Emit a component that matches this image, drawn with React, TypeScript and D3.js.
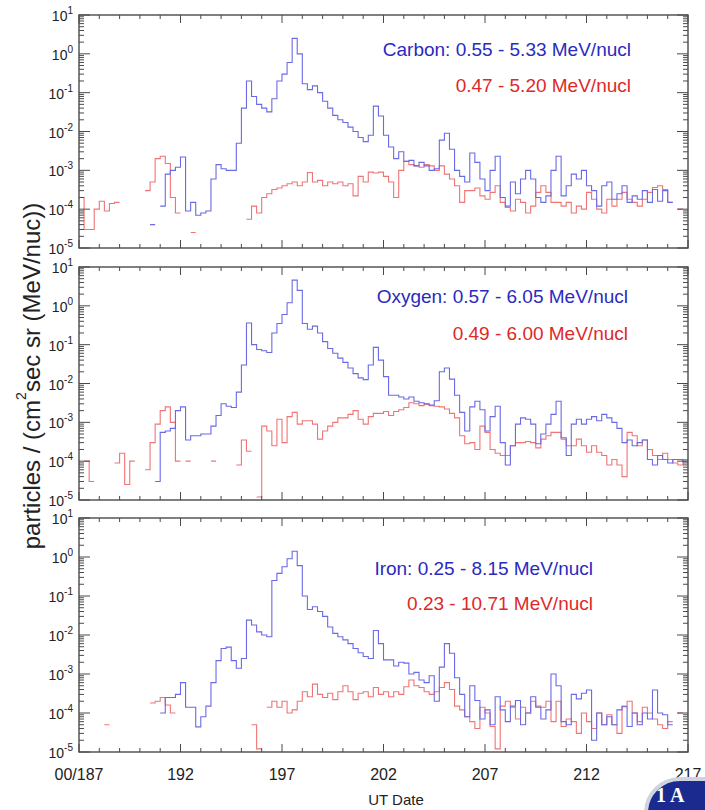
import React from 'react';
import * as d3 from 'd3';

const _ = null;

// bins of 6 hours starting at day 187
const binStart = 187;
const binWidth = 0.25;

// Carbon panel
const carbonBlue = [
  _, _, _, _, _, _, _, _, _, _,
  _, _, _, _, 4e-5, _, 1.2e-4, 8e-4, 1e-3, 1.2e-3,
  2.2e-3, 9e-5, 1.5e-4, 7e-5, 8e-5, 9e-5, 6e-4, 1.4e-3, 1.1e-3, 1e-3,
  1e-3, 5e-3, 0.04, 0.2, 0.08, 0.05, 0.04, 0.032, 0.07, 0.2,
  0.3, 0.6, 2.5, 1.0, 0.17, 0.12, 0.15, 0.1, 0.06, 0.04,
  0.026, 0.02, 0.017, 0.013, 0.01, 0.007, 0.0055, 0.008, 0.045, 0.025,
  0.008, 0.004, 0.002, 0.003, 0.0017, 0.0018, 0.0013, 0.0016, 0.0013, 0.001,
  0.0011, 0.006, 0.009, 0.0035, 0.001, 7e-4, 5e-4, 2.8e-3, 1.6e-3, 6e-4,
  3e-4, 1e-3, 2.3e-3, 2e-4, 1.2e-4, 5e-4, 2.5e-4, 6e-4, 1e-3, 6e-4,
  2e-4, 1.5e-4, 2.2e-4, 1e-3, 2.3e-3, 2.2e-4, 4e-4, 8e-4, 6e-4, 1e-3,
  4e-4, 3e-4, 1.2e-4, 4e-4, 5e-4, 1.8e-4, 2.5e-4, 4e-4, 1.5e-4, 2.2e-4,
  1.8e-4, 3e-4, 1.5e-4, 3.2e-4, 1.6e-4, 3e-4, 1.5e-4, _, _, _,
];
const carbonRed = [
  2e-4, 3e-5, 3e-5, 1e-4, 1.6e-4, 9e-5, 1.4e-4, 1.5e-4, _, _,
  _, _, _, 3e-4, 5e-4, 2e-3, 2.3e-3, 1.5e-3, 2e-4, 8e-5,
  _, _, 2.5e-5, _, _, _, _, _, _, _,
  _, _, _, 5.5e-5, 1.2e-4, 8e-5, 2e-4, 2.5e-4, 3.2e-4, 3.5e-4,
  4e-4, 4.5e-4, 5e-4, 4e-4, 5e-4, 8.8e-4, 5e-4, 5.5e-4, 4e-4, 5e-4,
  4.5e-4, 5e-4, 4e-4, 4.5e-4, 2.2e-4, 7e-4, 5e-4, 9e-4, 8.5e-4, 9e-4,
  7e-4, 5e-4, 2e-4, 1e-3, 1.7e-3, 1.4e-3, 1.3e-3, 1.2e-3, 1.4e-3, 1.3e-3,
  1e-3, 1.3e-3, 8e-4, 6e-4, 4e-4, 1.5e-4, 3e-4, 3e-4, 3.5e-4, 2.2e-4,
  1.8e-4, 2.7e-4, 4e-4, 1.5e-4, 1.1e-4, 9e-5, 1.8e-4, 1.5e-4, 8e-5, 1.2e-4,
  2.7e-4, 4e-4, 2.7e-4, 1.5e-4, 1.5e-4, 1.2e-4, 1.5e-4, 8e-5, 1.2e-4, 1e-4,
  2.7e-4, 1.8e-4, 1e-4, 8e-5, 1.8e-4, 1.2e-4, 1.8e-4, 2.7e-4, 1.8e-4, 1.5e-4,
  1.2e-4, 1.8e-4, 2.7e-4, 3.6e-4, 4e-4, 3.2e-4, 1.5e-4, _, 1e-4, _,
];

// Oxygen panel
const oxygenBlue = [
  _, _, _, _, _, _, _, _, _, _,
  _, _, _, _, _, 3e-5, 5.5e-4, 6e-4, 7e-4, 2e-3,
  2.5e-3, 3.5e-4, 4.5e-4, 4.5e-4, 5e-4, 5e-4, 8e-4, 1.5e-3, 3e-3, 2.6e-3,
  2.4e-3, 6e-3, 0.03, 0.36, 0.1, 0.075, 0.07, 0.063, 0.2, 0.35,
  0.6, 1.2, 4.6, 2.5, 0.35, 0.25, 0.3, 0.2, 0.12, 0.08,
  0.06, 0.045, 0.035, 0.025, 0.018, 0.014, 0.0126, 0.03, 0.085, 0.04,
  0.015, 0.005, 0.005, 0.0045, 0.004, 0.0045, 0.0035, 0.0032, 0.003, 0.0028,
  0.0036, 0.02, 0.025, 0.013, 0.005, 0.0018, 6e-4, 2.5e-3, 3.5e-3, 2.1e-3,
  6e-4, 1.4e-3, 2.6e-3, 3e-4, 8e-5, 2.5e-4, 9e-4, 1.3e-3, 1.2e-3, 9e-4,
  2.8e-4, 5e-4, 9e-4, 1.6e-3, 3.5e-3, 4e-4, 1.4e-4, 9e-4, 1.2e-3, 9e-4,
  1.2e-3, 1.4e-3, 1.1e-3, 1.6e-3, 1.3e-3, 1e-3, 7e-4, 3e-4, 3.5e-4, 2.5e-4,
  3e-4, 3.5e-4, 1.1e-4, 8e-5, 1.4e-4, 1.1e-4, 9e-5, 1.1e-4, 1.1e-4, 1e-4,
];
const oxygenRed = [
  _, 1e-4, 3e-5, _, _, _, _, 9e-5, 1.6e-4, 2.5e-5,
  1e-4, _, _, 6e-5, 3e-4, 9e-4, 2e-3, 2.5e-3, 1e-3, 1e-4,
  _, 1e-4, _, _, _, _, 1e-4, _, _, _,
  _, 8e-5, 3.5e-4, 1.8e-4, _, 1.2e-5, 8e-4, 6e-4, 2.5e-4, 1.2e-3,
  3e-4, 1.4e-3, 1.8e-3, 9e-4, 1.1e-3, 1.1e-3, 9e-4, 3.7e-4, 6e-4, 8e-4,
  1e-3, 1.3e-3, 1.3e-3, 1.6e-3, 2e-3, 1.2e-3, 9e-4, 1.4e-3, 1.7e-3, 1.7e-3,
  1.9e-3, 1.5e-3, 1.9e-3, 2.1e-3, 2.4e-3, 3.2e-3, 3e-3, 2.7e-3, 2.9e-3, 2.7e-3,
  2.6e-3, 2.5e-3, 2.2e-3, 1.7e-3, 1.3e-3, 4.5e-4, 2.8e-4, 3e-4, 2e-4, 8e-4,
  5.5e-4, 2e-4, 1.6e-4, 1.4e-4, 1.4e-4, 2.5e-4, 3e-4, 3e-4, 3.2e-4, 3e-4,
  2.2e-4, 3.7e-4, 4.5e-4, 5.5e-4, 5.5e-4, 3.7e-4, 2.5e-4, 2.5e-4, 3.7e-4, 2.5e-4,
  1.7e-4, 2.5e-4, 1.7e-4, 1.4e-4, 8e-5, 1.1e-4, 8e-5, 4e-5, 5.5e-4, 4.5e-4,
  2.5e-4, 3.5e-4, 2e-4, 1.4e-4, 1.1e-4, 1.6e-4, 1.1e-4, 9e-5, 8e-5, 1.1e-4,
];

// Iron panel
const ironBlue = [
  _, _, _, _, _, _, _, _, _, _,
  _, _, _, _, _, _, 1e-4, 2.5e-4, 2.5e-4, 3e-4,
  6e-4, 1.4e-4, 1.4e-4, 4.4e-5, 8e-5, 1.5e-4, 6e-4, 2.2e-3, 4.5e-3, 4.9e-3,
  2.2e-3, 1.4e-3, 2.5e-3, 0.024, 0.018, 0.012, 0.01, 0.009, 0.25, 0.38,
  0.56, 0.9, 1.4, 0.6, 0.1, 0.045, 0.053, 0.04, 0.03, 0.016,
  0.011, 0.009, 0.0075, 0.006, 0.0045, 0.0035, 0.0028, 0.0025, 0.013, 0.006,
  0.0023, 0.0023, 0.0016, 0.002, 0.0019, 0.001, 0.0011, 7e-4, 6e-4, 9e-4,
  2e-4, 1.5e-3, 6e-3, 3.4e-3, 8e-4, 3e-4, 8e-5, 5e-4, 2.1e-4, 7e-5,
  1.2e-4, 5e-5, 2.6e-4, 1.2e-4, 6e-5, 1.5e-4, 2.1e-4, 5e-5, 1e-4, 2.6e-4,
  1.4e-4, 7e-5, 1.2e-4, 1e-3, 5e-4, 6e-5, 5e-5, 3e-4, 2.3e-4, 3.2e-4,
  3.9e-4, 2e-5, 1e-4, 5e-5, 8e-5, 5e-5, 1.2e-4, 1.45e-4, 4.5e-5, 1e-4,
  5e-5, 1e-4, 7e-5, 3.9e-4, 1e-4, 9e-5, 5e-5, _, _, _,
];
const ironRed = [
  _, _, _, _, _, 5e-5, _, _, _, _,
  _, _, _, _, 1.8e-4, 2e-4, 2.5e-4, 1.6e-4, 1e-4, _,
  _, _, _, _, _, _, _, _, _, _,
  _, _, _, _, 5e-5, 1.2e-5, _, 1.4e-4, 2e-4, 1.4e-4,
  2e-4, 1e-4, 1.2e-4, 2e-4, 3.5e-4, 2.6e-4, 5.5e-4, 3e-4, 2.5e-4, 3.2e-4,
  2.2e-4, 3.5e-4, 5e-4, 3.5e-4, 2.2e-4, 3.2e-4, 3.5e-4, 2.6e-4, 4.5e-4, 3e-4,
  3.5e-4, 2.6e-4, 3.5e-4, 3e-4, 4.7e-4, 7e-4, 5e-4, 4.5e-4, 3.5e-4, 3e-4,
  3.5e-4, 4.5e-4, 6e-4, 4e-4, 1.5e-4, 1.2e-4, 8e-5, 6e-5, 4e-5, 1.4e-4,
  1e-4, 4.5e-5, 1.2e-5, 1.5e-4, 2e-4, 1.4e-4, 7e-5, 1.4e-4, 1e-4, 2e-4,
  1.5e-4, 1.4e-4, 2e-4, 6e-5, 2e-4, 4.5e-5, 7e-5, 6e-5, 3e-5, 1e-4,
  6e-5, 4e-5, 1e-4, 5e-5, 9e-5, 5e-5, 3e-5, 1.5e-4, 2e-4, 1e-4,
  6e-5, 1.4e-4, 1e-4, 7e-5, 5e-5, 4e-5, 6e-5, _, 1e-4, _,
];

const blueSeries = [carbonBlue, oxygenBlue, ironBlue];
const redSeries = [carbonRed, oxygenRed, ironRed];
const blueLabels = ['Carbon: 0.55 - 5.33 MeV/nucl', 'Oxygen: 0.57 - 6.05 MeV/nucl', 'Iron: 0.25 - 8.15 MeV/nucl'];
const redLabels = ['0.47 - 5.20 MeV/nucl', '0.49 - 6.00 MeV/nucl', '0.23 - 10.71 MeV/nucl'];

const xTickDays = [187, 192, 197, 202, 207, 212, 217];
const xTickLabels = ['00/187', '192', '197', '202', '207', '212', '217'];
const yExponents = [1, 0, -1, -2, -3, -4, -5];

// layout
const W = 705;
const H = 810;
const left = 79;
const right = 688;
const tops = [15, 267, 518];
const bottoms = [248, 500, 752];
const legendRight = [631, 628, 593];
const legendY1 = [56, 303, 575];
const legendY2 = [92, 340, 610];

const font = "'Liberation Sans', Arial, Helvetica, sans-serif";
const frameColor = '#4a4a4a';
const blueLine = '#6a6ae6';
const redLine = '#f07474';

const x = d3.scaleLinear().domain([187, 217]).range([left, right]);

type Pt = { d: number; v: number | null };

const toSteps = (vals: (number | null)[]): Pt[] =>
  vals.flatMap((v, i) => {
    const d0 = binStart + i * binWidth;
    return [{ d: d0, v }, { d: d0 + binWidth, v }];
  });

function Panel({ i }: { i: number }) {
  const top = tops[i];
  const bottom = bottoms[i];
  const y = d3.scaleLog().domain([1e-5, 10]).range([bottom, top]);

  const line = d3.line<Pt>()
    .defined(p => p.v != null)
    .x(p => x(p.d))
    .y(p => y(p.v as number));

  const yTicks = y.ticks();
  const dayTicks = x.ticks(30);

  return (
    <g>
      <path d={line(toSteps(redSeries[i])) || ''} fill="none" stroke={redLine} strokeWidth={1.1} />
      <path d={line(toSteps(blueSeries[i])) || ''} fill="none" stroke={blueLine} strokeWidth={1.1} />

      {/* y ticks, both sides */}
      {yTicks.map((t, k) => {
        const major = Math.abs(Math.log10(t) - Math.round(Math.log10(t))) < 1e-6;
        const len = major ? 11 : 5;
        const yy = y(t);
        return (
          <g key={'y' + k}>
            <line x1={left} x2={left + len} y1={yy} y2={yy} stroke={frameColor} strokeWidth={1} />
            <line x1={right - len} x2={right} y1={yy} y2={yy} stroke={frameColor} strokeWidth={1} />
          </g>
        );
      })}

      {/* x ticks, top and bottom */}
      {dayTicks.map((d, k) => {
        const major = (d - 187) % 5 === 0;
        const len = major ? 8 : 4;
        const xx = x(d);
        return (
          <g key={'x' + k}>
            <line x1={xx} x2={xx} y1={bottom} y2={bottom - len} stroke={frameColor} strokeWidth={1} />
            <line x1={xx} x2={xx} y1={top} y2={top + len} stroke={frameColor} strokeWidth={1} />
          </g>
        );
      })}

      <rect x={left} y={top} width={right - left} height={bottom - top} fill="none" stroke={frameColor} strokeWidth={1.4} />

      {/* y tick labels */}
      {yExponents.map(e => (
        <text key={'l' + e} x={73} y={y(Math.pow(10, e)) + 6} textAnchor="end" fontSize={14} fill="#222" fontFamily={font}>
          10<tspan dy={-7} fontSize={10}>{e}</tspan>
        </text>
      ))}

      <text x={legendRight[i]} y={legendY1[i]} textAnchor="end" fontSize={19} fill="#2a2ac0" fontFamily={font}>
        {blueLabels[i]}
      </text>
      <text x={legendRight[i]} y={legendY2[i]} textAnchor="end" fontSize={19} fill="#e02828" fontFamily={font}>
        {redLabels[i]}
      </text>
    </g>
  );
}

export default function App() {
  return (
    <svg width={W} height={H} style={{ position: 'absolute', left: 0, top: 0, background: '#fff' }}>
      <rect x={0} y={0} width={W} height={H} fill="#fff" />
      {[0, 1, 2].map(i => <Panel key={i} i={i} />)}

      {xTickDays.map((d, k) => (
        <text key={d} x={x(d)} y={780} textAnchor="middle" fontSize={16} fill="#222" fontFamily={font}>
          {xTickLabels[k]}
        </text>
      ))}
      <text x={396} y={805} textAnchor="middle" fontSize={15} fill="#222" fontFamily={font}>UT Date</text>

      <text transform="translate(40,376) rotate(-90)" textAnchor="middle" fontSize={24} fill="#222" fontFamily={font}>
        particles / (cm<tspan dy={-14} fontSize={14}>2</tspan><tspan dy={14}>sec sr (MeV/nuc))</tspan>
      </text>

      {/* corner badge */}
      <rect x={646} y={779} width={140} height={80} rx={34} fill="#1b2a8e" stroke="#cfd3df" strokeWidth={4} />
      <text x={656} y={802} fill="#fff" fontSize={20} fontWeight="bold" fontFamily="'Liberation Serif', serif">1 A</text>
    </svg>
  );
}
